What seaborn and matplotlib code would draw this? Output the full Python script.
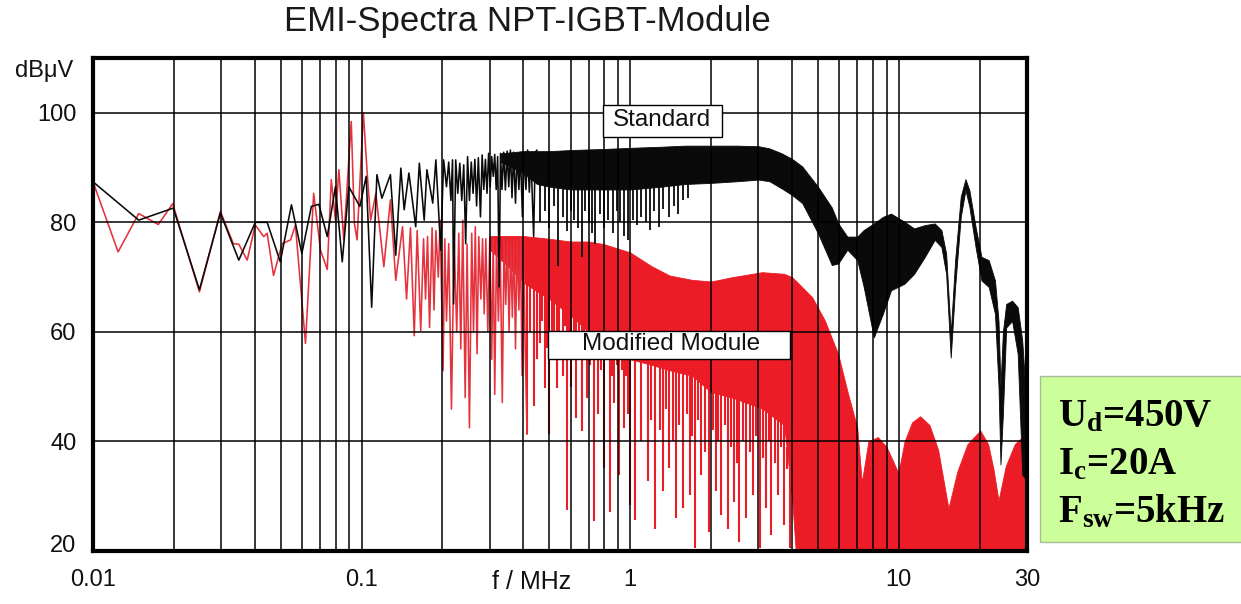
import numpy as np
import matplotlib
matplotlib.use("Agg")
import matplotlib.pyplot as plt
import matplotlib.ticker as mticker
import matplotlib.transforms as mtrans
from matplotlib.patches import Rectangle
import seaborn as sns

# ---------------- data (f in MHz, level in dBuV) ----------------
# Standard module: resolved peaks / troughs at low frequency
black_f = [0.0100, 0.0148, 0.0199, 0.0249, 0.0298, 0.0349, 0.0402, 0.0445, 0.0498, 0.0548,
           0.0599, 0.0650, 0.0693, 0.0745, 0.0799, 0.0847, 0.0896, 0.0985, 0.1040, 0.1090,
           0.1140, 0.1190, 0.1280, 0.1340, 0.1400, 0.1440, 0.1500, 0.1590, 0.1640, 0.1710,
           0.1750, 0.1840, 0.1890, 0.1970, 0.2020, 0.2070, 0.2110, 0.2150, 0.2180, 0.2200,
           0.2240, 0.2280, 0.2320, 0.2360, 0.2400, 0.2440, 0.2480, 0.2520, 0.2560, 0.2600,
           0.2640, 0.2680, 0.2720, 0.2770, 0.2810, 0.2850, 0.2890, 0.2930, 0.2970, 0.3010,
           0.3050, 0.3090, 0.3130, 0.3170, 0.3210, 0.3250, 0.3290, 0.3330, 0.3380, 0.3430,
           0.3480, 0.3530, 0.3580, 0.3630, 0.3680, 0.3740, 0.3790, 0.3850, 0.3900, 0.3970,
           0.4030, 0.4090, 0.4150, 0.4210, 0.4270, 0.4370, 0.4430, 0.4500]
black_v = [87.4, 80.4, 82.6, 67.7, 81.7, 73.1, 80.0, 80.0, 72.8, 83.2,
           74.3, 82.9, 83.3, 77.4, 86.5, 72.8, 86.5, 82.9, 88.4, 64.5,
           88.7, 84.4, 88.7, 74.0, 89.9, 82.3, 89.0, 79.2, 90.8, 80.4,
           89.6, 83.5, 91.4, 74.9, 91.4, 86.5, 91.0, 84.0, 91.4, 65.1,
           91.4, 85.3, 90.8, 84.0, 90.5, 76.1, 92.0, 84.0, 91.0, 85.3,
           91.5, 83.0, 91.8, 81.0, 92.3, 86.0, 91.5, 85.3, 92.6, 86.5,
           92.0, 88.4, 92.4, 86.0, 92.0, 68.2, 92.6, 86.0, 92.8, 85.9,
           93.0, 86.5, 93.2, 84.5, 92.8, 83.5, 92.6, 86.0, 92.8, 81.0,
           92.8, 86.0, 93.2, 85.5, 92.0, 77.4, 92.8, 93.2]

# Standard module: dense part as an envelope band
black_band_f = [0.33, 0.40, 0.45, 0.5, 0.6, 0.8, 1.0, 1.3, 1.6, 2.0, 2.5, 3.0, 3.3, 3.66, 4.0,
                4.37, 5.0, 5.63, 5.95, 6.43, 7.0, 7.4, 8.07, 8.72, 9.35, 10.5, 11.4, 12.5,
                13.6, 14.4, 15.0, 15.6, 16.2, 17.0, 17.7, 18.3, 19.3, 20.3, 21.6, 22.8, 23.5,
                23.9, 24.4, 25.1, 26.4, 27.7, 28.8, 30.0]
black_band_hi = [92.6, 93.0, 93.0, 93.0, 93.2, 93.4, 93.6, 93.8, 94.0, 94.0, 94.0, 93.9, 93.5,
                 92.6, 91.6, 90.2, 86.5, 82.7, 79.8, 77.4, 77.4, 78.6, 79.8, 81.0, 81.6, 80.1,
                 78.9, 79.5, 79.8, 78.6, 74.3, 59.7, 73.1, 84.7, 87.9, 85.9, 79.2, 73.7, 73.1,
                 69.4, 62.0, 50.0, 60.0, 65.1, 65.7, 64.5, 58.4, 45.0]
black_band_lo = [91.0, 89.0, 87.0, 86.5, 86.0, 86.0, 86.0, 86.5, 87.0, 87.2, 87.5, 87.8, 87.5,
                 86.2, 85.0, 83.5, 78.0, 72.2, 72.5, 75.0, 73.1, 68.2, 59.0, 63.3, 67.6, 68.8,
                 70.6, 73.7, 76.8, 75.5, 70.6, 55.3, 68.2, 81.0, 85.9, 82.9, 75.5, 69.4, 68.2,
                 63.3, 50.0, 35.8, 45.0, 60.8, 62.0, 56.0, 33.9, 33.0]
# Standard module: individual dips below the band
black_spike_f = [0.46, 0.48, 0.50, 0.52, 0.54, 0.56, 0.58, 0.60, 0.62, 0.64, 0.66, 0.68, 0.70,
                 0.72, 0.74, 0.77, 0.80, 0.83, 0.86, 0.89, 0.92, 0.95, 0.98, 1.02, 1.06, 1.10,
                 1.14, 1.18, 1.23, 1.28, 1.33, 1.39, 1.45, 1.50, 1.57, 1.64]
black_spike_bot = [80.0, 82.0, 79.0, 83.0, 72.0, 81.0, 78.5, 82.0, 80.5, 79.0, 73.7, 82.0, 80.0,
                   78.0, 76.1, 81.5, 79.0, 80.5, 78.0, 82.0, 80.0, 77.5, 76.8, 80.5, 79.5, 81.0,
                   80.0, 78.6, 82.0, 79.2, 82.5, 81.0, 83.0, 81.6, 84.0, 84.5]

# Modified module: resolved peaks / troughs at low frequency
red_f = [0.0100, 0.0124, 0.0148, 0.0175, 0.0198, 0.0249, 0.0298, 0.0333, 0.0349, 0.0375,
         0.0402, 0.0432, 0.0445, 0.0470, 0.0506, 0.0544, 0.0567, 0.0618, 0.0663, 0.0703,
         0.0745, 0.0771, 0.0799, 0.0823, 0.0858, 0.0915, 0.0940, 0.0962, 0.1015, 0.1050,
         0.1080, 0.1130, 0.1210, 0.1280, 0.1340, 0.1420, 0.1470, 0.1520, 0.1570, 0.1610,
         0.1660, 0.1700, 0.1730, 0.1760, 0.1790, 0.1830, 0.1860, 0.1890, 0.1930, 0.1960,
         0.2010, 0.2040, 0.2070, 0.2110, 0.2160, 0.2210, 0.2260, 0.2300, 0.2340, 0.2380,
         0.2430, 0.2470, 0.2520, 0.2570, 0.2610, 0.2650, 0.2690, 0.2730, 0.2780, 0.2820,
         0.2860, 0.2900, 0.2950, 0.3000, 0.3050, 0.3090, 0.3130, 0.3180, 0.3230, 0.3280,
         0.3340, 0.3390, 0.3440, 0.3490, 0.3540, 0.3590, 0.3640, 0.3690, 0.3740, 0.3790,
         0.3850, 0.3900, 0.3960, 0.4010, 0.4060, 0.4130]
red_v = [87.4, 74.6, 81.6, 79.6, 83.4, 67.3, 82.0, 76.1, 76.0, 73.1,
         79.5, 77.4, 78.0, 70.3, 76.1, 76.8, 79.5, 57.9, 85.3, 74.9,
         71.4, 87.8, 80.4, 89.6, 76.8, 98.4, 79.8, 76.8, 100.0, 88.7,
         80.4, 85.3, 71.9, 84.1, 69.4, 79.2, 66.0, 79.0, 59.3, 78.5,
         60.2, 77.0, 66.0, 77.4, 60.8, 79.0, 64.0, 78.5, 70.0, 80.4,
         52.9, 77.0, 62.0, 76.1, 45.9, 77.4, 60.0, 78.0, 56.9, 80.4,
         48.0, 76.0, 42.5, 78.0, 60.0, 79.2, 56.0, 77.4, 66.0, 77.0,
         63.3, 77.0, 60.0, 77.0, 55.0, 77.0, 48.6, 76.5, 62.0, 75.5,
         47.1, 76.8, 65.0, 77.0, 60.0, 76.5, 62.7, 77.0, 56.9, 76.8,
         64.0, 77.0, 52.0, 77.0, 58.0, 41.3]

# Modified module: dense part as an envelope band
red_band_f = [0.30, 0.35, 0.40, 0.50, 0.60, 0.70, 0.80, 1.00, 1.20, 1.40, 1.70, 2.00, 2.40,
              3.10, 3.74, 4.00, 4.20, 4.76, 5.30, 5.94, 6.43, 7.00, 7.28, 7.70, 8.35, 9.00,
              9.60, 9.96, 10.5, 11.2, 12.0, 13.0, 14.0, 15.3, 16.5, 18.0, 20.1, 21.5, 22.5,
              23.5, 25.0, 27.0, 28.8, 30.0]
red_band_hi = [77.5, 77.5, 77.5, 77.0, 76.5, 76.5, 76.0, 74.5, 72.0, 70.3, 69.5, 69.2, 70.0,
               70.9, 70.6, 70.0, 69.0, 66.3, 62.1, 56.0, 49.2, 42.5, 32.5, 40.0, 40.8, 39.0,
               36.0, 34.2, 40.0, 43.5, 44.6, 43.0, 38.5, 27.8, 34.5, 39.5, 42.0, 39.5, 35.0,
               29.2, 35.5, 39.5, 40.8, 40.0]
red_band_lo = [75.0, 72.0, 69.0, 66.0, 63.0, 60.0, 58.0, 55.0, 54.0, 53.0, 52.0, 49.0, 48.0,
               46.0, 43.0, 30.0, 15.0, 15.0, 15.0, 15.0, 15.0, 15.0, 15.0, 15.0, 15.0, 15.0,
               15.0, 15.0, 15.0, 15.0, 15.0, 15.0, 15.0, 15.0, 15.0, 15.0, 15.0, 15.0, 15.0,
               15.0, 15.0, 15.0, 15.0, 15.0]
# Modified module: individual dips below the band
red_spike_f = [0.413, 0.425, 0.44, 0.45, 0.46, 0.47, 0.48, 0.49, 0.50, 0.51, 0.52, 0.536, 0.545,
               0.56, 0.57, 0.58, 0.59, 0.60, 0.615, 0.63, 0.645, 0.66, 0.675, 0.69, 0.71, 0.73,
               0.745, 0.76, 0.78, 0.80, 0.82, 0.84, 0.855, 0.87, 0.89, 0.91, 0.93, 0.95, 0.965,
               0.98, 1.00, 1.04, 1.10, 1.16, 1.20, 1.24, 1.29, 1.33, 1.36, 1.40, 1.44, 1.48,
               1.52, 1.57, 1.62, 1.67, 1.70, 1.74, 1.79, 1.84, 1.90, 1.97, 2.03, 2.09, 2.13,
               2.18, 2.25, 2.31, 2.37, 2.44, 2.50, 2.55, 2.62, 2.70, 2.78, 2.86, 2.95, 3.03,
               3.12, 3.21, 3.28, 3.35, 3.45, 3.55, 3.65, 3.75, 3.84, 3.92]
red_spike_bot = [41.3, 60.0, 46.5, 55.0, 58.0, 62.0, 49.8, 57.0, 41.3, 60.0, 55.0, 49.8, 58.0,
                 52.0, 61.0, 27.5, 56.0, 50.0, 58.0, 44.3, 55.0, 41.9, 57.0, 48.0, 54.0, 25.4,
                 56.0, 45.0, 53.0, 35.2, 55.0, 27.2, 52.0, 47.0, 54.0, 33.9, 53.0, 42.5, 52.0,
                 45.0, 28.4, 25.7, 40.0, 32.7, 44.0, 24.1, 42.0, 30.9, 46.0, 35.2, 40.0, 26.0,
                 43.0, 27.8, 45.0, 30.3, 41.0, 20.5, 44.0, 33.9, 38.0, 23.5, 42.0, 30.9, 40.0,
                 26.6, 43.0, 24.1, 39.0, 29.0, 36.0, 21.7, 40.0, 26.0, 38.0, 30.3, 41.0, 20.5,
                 37.0, 27.8, 40.0, 22.9, 36.0, 30.3, 39.0, 24.7, 35.0, 20.5]

x_ticks = [0.01, 0.1, 1, 10, 30]
x_ticklabels = ["0.01", "0.1", "1", "10", "30"]
y_ticks = [20, 40, 60, 80, 100]
y_ticklabels = ["20", "40", "60", "80", "100"]

title = "EMI-Spectra NPT-IGBT-Module"
label_std = "Standard"
label_mod = "Modified Module"
cond_lines = ["U$_\\mathrm{d}$=450V", "I$_\\mathrm{c}$=20A", "F$_\\mathrm{sw}$=5kHz"]

# ---------------- style ----------------
sns.set_theme(style="white")
plt.rcParams["font.family"] = ["Liberation Sans", "DejaVu Sans"]
plt.rcParams["mathtext.fontset"] = "custom"
plt.rcParams["mathtext.rm"] = "Liberation Serif:bold"
plt.rcParams["mathtext.it"] = "Liberation Serif:bold"
plt.rcParams["mathtext.bf"] = "Liberation Serif:bold"

W, H = 1241, 604
fig = plt.figure(figsize=(W / 100, H / 100), dpi=100, facecolor="white")
ax = fig.add_axes([93 / W, 53 / H, 934 / W, 493 / H])
ax.set_facecolor("white")

RED = "#ec1c26"
RED_LINE = "#e5323c"
BLACK = "#0a0a0a"

ax.set_xscale("log")

# ---- modified module (red) ----
ax.fill_between(red_band_f, red_band_lo, red_band_hi, color=RED, lw=0.6, edgecolor=RED, zorder=1.2)
lf = np.log10(red_band_f)
red_tops = np.interp(np.log10(red_spike_f), lf, red_band_lo) + 1.0
ax.vlines(red_spike_f, red_spike_bot, red_tops, color=RED, lw=1.5, zorder=1.3)
sns.lineplot(x=red_f, y=red_v, sort=False, estimator=None, color=RED_LINE, lw=1.15, ax=ax, zorder=1.4)

# ---- standard module (black) ----
ax.fill_between(black_band_f, black_band_lo, black_band_hi, color=BLACK, lw=0.6, edgecolor=BLACK, zorder=1.6)
lfb = np.log10(black_band_f)
black_tops = np.interp(np.log10(black_spike_f), lfb, black_band_lo) + 1.0
ax.vlines(black_spike_f, black_spike_bot, black_tops, color=BLACK, lw=1.3, zorder=1.7)
sns.lineplot(x=black_f, y=black_v, sort=False, estimator=None, color=BLACK, lw=1.15, ax=ax, zorder=1.8)

# ---- axes ----
ax.set_xlim(0.01, 30)
ax.set_ylim(20, 110)
ax.xaxis.set_major_locator(mticker.FixedLocator(x_ticks))
ax.xaxis.set_major_formatter(mticker.FixedFormatter(x_ticklabels))
ax.xaxis.set_minor_locator(mticker.LogLocator(base=10, subs=np.arange(2, 10), numticks=20))
ax.xaxis.set_minor_formatter(mticker.NullFormatter())
ax.set_yticks(y_ticks)
ax.set_yticklabels(y_ticklabels)
ax.set_xlabel("")
ax.set_ylabel("")

ax.set_axisbelow(False)
ax.grid(True, which="both", axis="x", color="black", lw=1.1)
ax.grid(True, which="major", axis="y", color="black", lw=1.1)
ax.tick_params(axis="both", which="major", direction="out", length=4, width=1.2,
               color="black", labelsize=17, labelcolor="#111111")
ax.tick_params(axis="x", which="major", pad=9)
ax.tick_params(axis="y", which="major", pad=8)
ax.tick_params(axis="x", which="minor", length=0)
for s in ax.spines.values():
    s.set_visible(True)
    s.set_color("black")
    s.set_linewidth(3.0)

# lift the "20" label a bit as in the reference
for lab in ax.get_yticklabels():
    if lab.get_text() == "20":
        lab.set_transform(lab.get_transform() + mtrans.ScaledTranslation(0, 7 / 100, fig.dpi_scale_trans))

# ---- texts ----
def fx(x):
    return x / W

def fy(y):
    return 1 - y / H

fig.text(fx(527), fy(22), title, ha="center", va="center", fontsize=25, color="#1a1a1a")
fig.text(fx(44), fy(71), "dBμV", ha="center", va="center", fontsize=17, color="#111111")
fig.text(fx(532), fy(582), "f / MHz", ha="center", va="center", fontsize=18, color="#111111")

# label boxes
fig.add_artist(Rectangle((fx(603), fy(137)), (722 - 603) / W, (137 - 105) / H,
                         transform=fig.transFigure, facecolor="white", edgecolor="black", lw=1.0, zorder=5))
fig.text(fx(662), fy(120), label_std, ha="center", va="center", fontsize=17.5, color="#111111", zorder=6)
fig.add_artist(Rectangle((fx(548), fy(359)), (790 - 548) / W, (359 - 331) / H,
                         transform=fig.transFigure, facecolor="white", edgecolor="black", lw=1.0, zorder=5))
fig.text(fx(671), fy(344), label_mod, ha="center", va="center", fontsize=17.5, color="#111111", zorder=6)

# condition box
fig.add_artist(Rectangle((fx(1040), fy(542)), (1245 - 1040) / W, (542 - 376) / H,
                         transform=fig.transFigure, facecolor="#ccff99", edgecolor="#aabb99", lw=1.0, zorder=5))
for i, t in enumerate(cond_lines):
    fig.text(fx(1058), fy(426 + 48 * i), t, ha="left", va="baseline", fontsize=28,
             family=["Liberation Serif", "DejaVu Serif"], weight="bold", color="black", zorder=6)

fig.savefig("out.png", dpi=100, facecolor="white")
